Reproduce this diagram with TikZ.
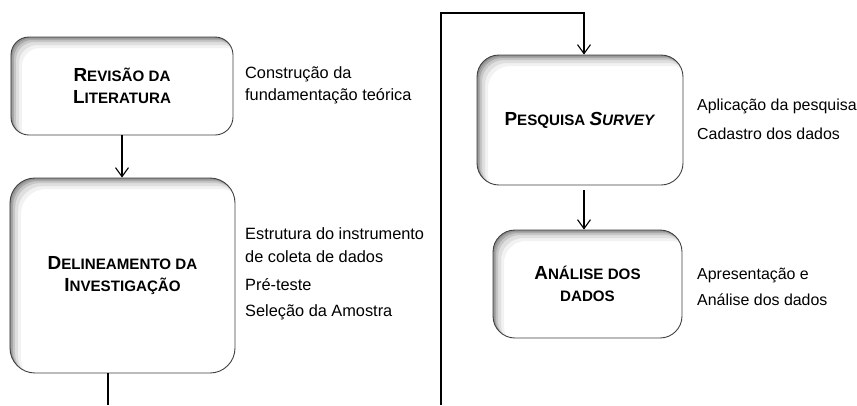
\documentclass[tikz,border=0pt]{standalone}
\usepackage{fontspec}
\setmainfont{Liberation Sans}
\usetikzlibrary{arrows.meta}
\newcommand{\smcp}[2]{{\fontsize{19}{22}\selectfont #1}{\fontsize{15.2}{22}\selectfont #2}}
\tikzset{
  shbox/.style={draw=black!75, line width=0.9bp, fill=white, rounded corners=#1,
    font=\bfseries\fontsize{15.2}{22}\selectfont, align=center, inner sep=0pt,
    path picture={
      \fill[black, opacity=0.14, even odd rule, rounded corners=#1]
        ([shift={(-30bp,30bp)}]path picture bounding box.north west) rectangle ([shift={(30bp,-30bp)}]path picture bounding box.south east)
        ([shift={(1.5bp,-1.5bp)}]path picture bounding box.north west) rectangle ([shift={(1.5bp,-1.5bp)}]path picture bounding box.south east);
      \fill[black, opacity=0.14, even odd rule, rounded corners=#1]
        ([shift={(-30bp,30bp)}]path picture bounding box.north west) rectangle ([shift={(30bp,-30bp)}]path picture bounding box.south east)
        ([shift={(3bp,-3bp)}]path picture bounding box.north west) rectangle ([shift={(3bp,-3bp)}]path picture bounding box.south east);
      \fill[black, opacity=0.11, even odd rule, rounded corners=#1]
        ([shift={(-30bp,30bp)}]path picture bounding box.north west) rectangle ([shift={(30bp,-30bp)}]path picture bounding box.south east)
        ([shift={(5bp,-5bp)}]path picture bounding box.north west) rectangle ([shift={(5bp,-5bp)}]path picture bounding box.south east);
      \fill[black, opacity=0.08, even odd rule, rounded corners=#1]
        ([shift={(-30bp,30bp)}]path picture bounding box.north west) rectangle ([shift={(30bp,-30bp)}]path picture bounding box.south east)
        ([shift={(8bp,-8bp)}]path picture bounding box.north west) rectangle ([shift={(8bp,-8bp)}]path picture bounding box.south east);
      \fill[black, opacity=0.05, even odd rule, rounded corners=#1]
        ([shift={(-30bp,30bp)}]path picture bounding box.north west) rectangle ([shift={(30bp,-30bp)}]path picture bounding box.south east)
        ([shift={(11bp,-11bp)}]path picture bounding box.north west) rectangle ([shift={(11bp,-11bp)}]path picture bounding box.south east);
    }},
  note/.style={anchor=base west, inner sep=0pt, font=\fontsize{16}{20}\selectfont},
  notel/.style={note, font=\fontsize{16.4}{20}\selectfont},
  conn/.style={line width=1.1bp, black},
  arr/.style={conn, -{Straight Barb[length=9bp,width=13bp]}}
}
\begin{document}
\begin{tikzpicture}[x=1bp, y=-1bp]
\useasboundingbox (0,0) rectangle (857,405);
% boxes
\node[shbox=18bp, minimum width=222bp, minimum height=98bp] (b1) at (122,86)
  {\smcp{R}{EVISÃO DA}\\\smcp{L}{ITERATURA}};
\node[shbox=25bp, minimum width=225bp, minimum height=195bp] (b2) at (122.5,275.5)
  {\smcp{D}{ELINEAMENTO DA}\\\smcp{I}{NVESTIGAÇÃO}};
\node[shbox=22bp, minimum width=206bp, minimum height=130bp] (b3) at (580,120)
  {\smcp{P}{ESQUISA} \textit{\smcp{S}{URVEY}}};
\node[shbox=22bp, minimum width=189bp, minimum height=108bp] (b4) at (587.5,284)
  {\smcp{A}{NÁLISE DOS}\\\smcp{}{DADOS}};
% notes
\node[notel] (n1a) at (245,78) {Construção da};
\node[notel] (n1b) at (245,100) {fundamentação teórica};
\node[notel] (n2a) at (245,239) {Estrutura do instrumento};
\node[notel] (n2b) at (245,262) {de coleta de dados};
\node[notel] (n2c) at (245,290) {Pré-teste};
\node[notel] (n2d) at (245,316) {Seleção da Amostra};
\node[note] (n3a) at (697,110) {Aplicação da pesquisa};
\node[note] (n3b) at (697,139) {Cadastro dos dados};
\node[note] (n4a) at (697,279) {Apresentação e};
\node[note] (n4b) at (697,305) {Análise dos dados};
% connectors
\coordinate (e1) at (108,405);
\coordinate (s1) at (441,405);
\coordinate (t1) at (441,13);
\coordinate (c1) at (584,13);
\draw[arr] (b1.south) -- (b1.south |- b2.north);
\draw[conn] (e1 |- b2.south) -- (e1);
\draw[arr] (s1) -- (t1) -- (c1) -- (c1 |- b3.north);
\draw[arr] ([yshift=-5bp]b3.south -| c1) -- (c1 |- b4.north);
\end{tikzpicture}
\end{document}
